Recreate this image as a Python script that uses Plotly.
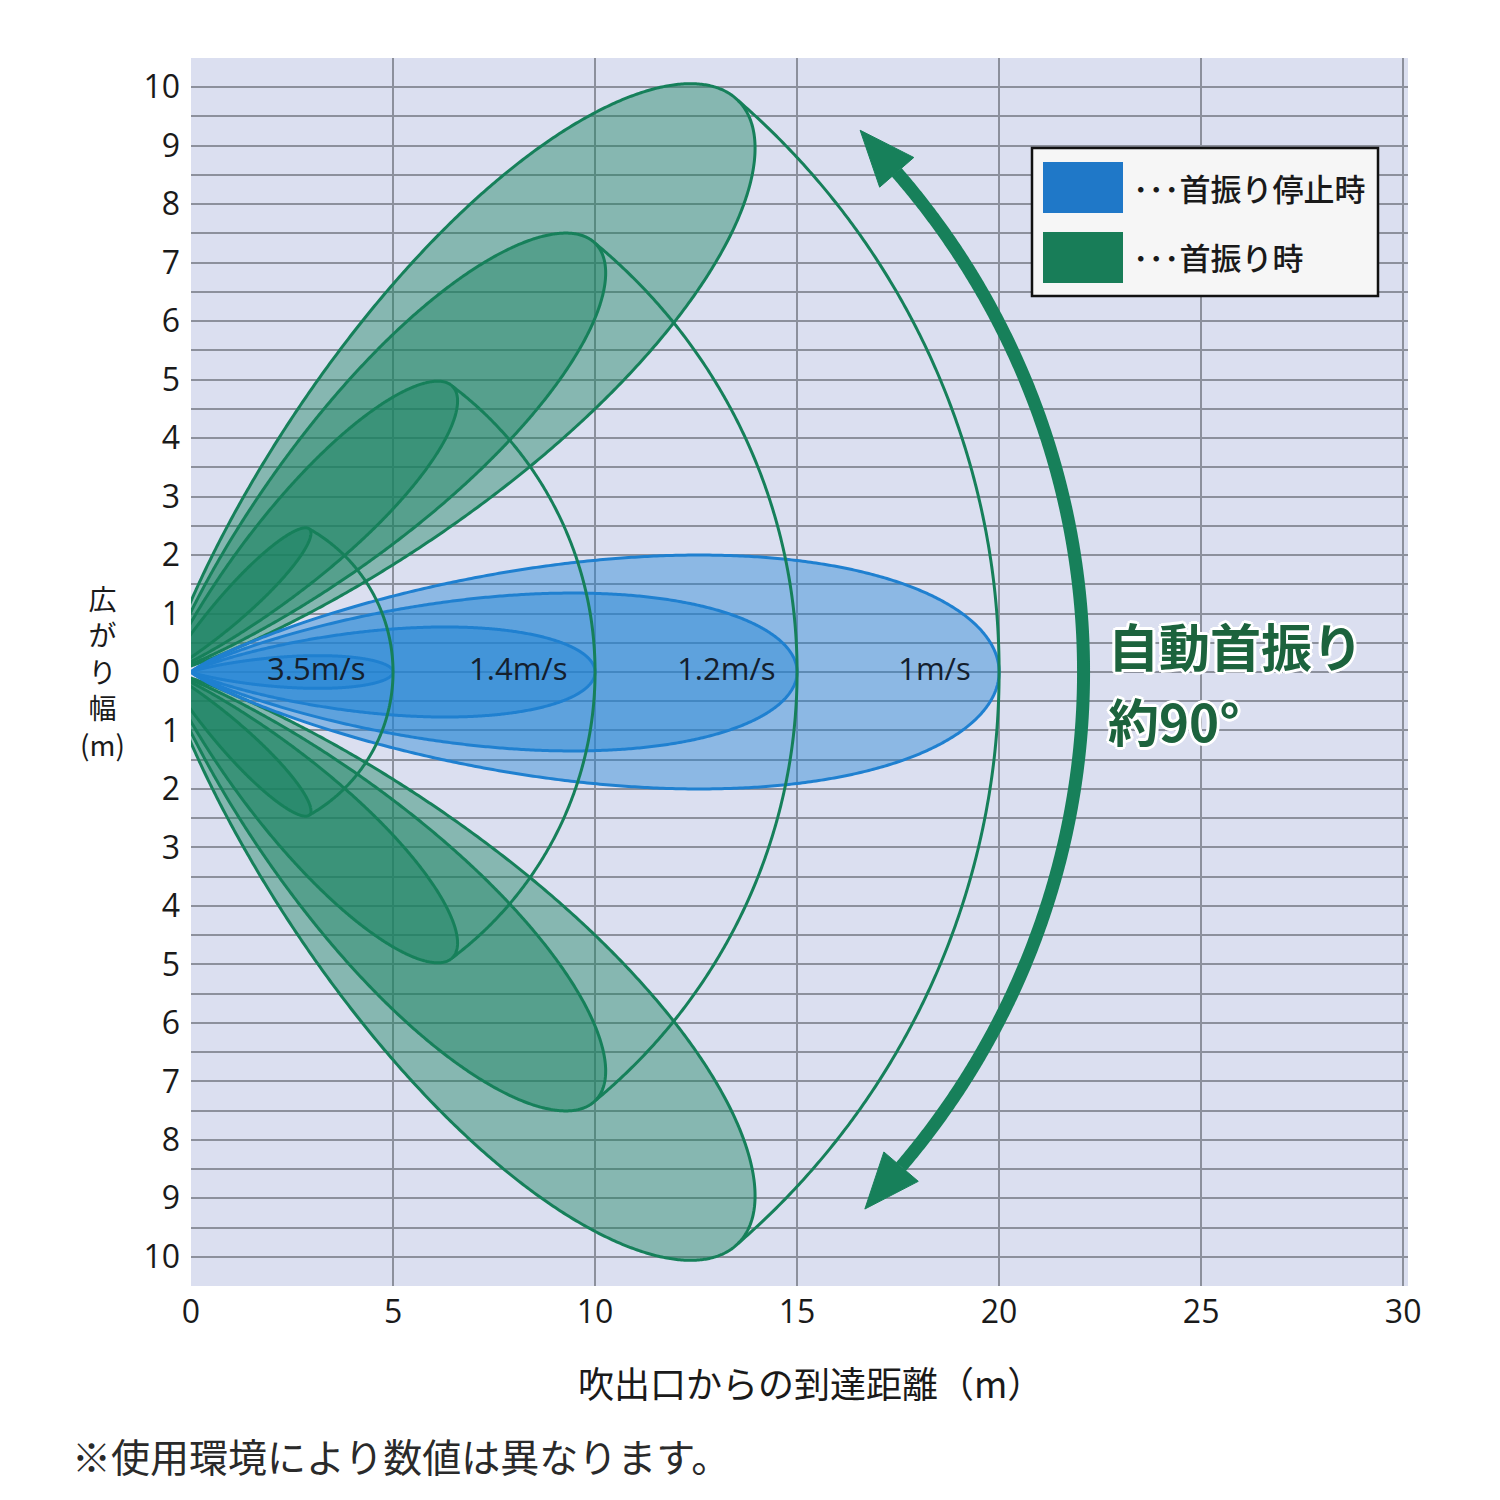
import numpy as np
import plotly.graph_objects as go

# ---------------- data ----------------
speed_labels = ["3.5m/s", "1.4m/s", "1.2m/s", "1m/s"]
reach_m = [5, 10, 15, 20]              # 到達距離 (m)
half_width_m = [0.28, 0.77, 1.35, 2.0]  # 広がり幅 (片側, m)
label_x_m = [3.1, 8.1, 13.25, 18.4]
swing_deg = [45, -45]                   # 首振り角度 (片側)
swing_pivot_x = -0.6
x_tick_vals = [0, 5, 10, 15, 20, 25, 30]
y_tick_vals = list(range(-10, 11))
y_tick_text = [str(abs(v)) for v in y_tick_vals]

legend_labels = ["･･･首振り停止時", "･･･首振り時"]
x_title = "吹出口からの到達距離（m）"
y_title = "広<br>が<br>り<br>幅<br>(m)"
note_text = "※使用環境により数値は異なります。"
swing_text = ["自動首振り", "約90°"]

# ---------------- layout geometry ----------------
W = H = 1500
ML, MR, MT, MB = 191, 92, 58, 214
XR = [0, 30.12]
YR = [-10.5, 10.5]
sx = (W - ML - MR) / (XR[1] - XR[0])
sy = (H - MT - MB) / (YR[1] - YR[0])
k = sy / sx  # aspect factor (y units -> x-unit pixel space)

BLUE_FILL = "rgba(30,132,212,0.42)"
BLUE_LINE = "#1f80d0"
GREEN_FILL = "rgba(24,130,96,0.43)"
GREEN_LINE = "#16805a"
ARROW = "#17805a"
JP = "Noto Sans CJK JP"
NUM = "Open Sans"


def px2paper(px, py):
    return (px - ML) / (W - ML - MR), (H - MB - py) / (H - MT - MB)


def teardrop(L, hw, p=0.85, n=400):
    t = np.linspace(0, np.pi, n)
    u = (1 - np.cos(t)) / 2
    us = p / (p + 0.5)
    c = hw / (us ** p * np.sqrt(1 - us))
    h = c * u ** p * np.sqrt(np.clip(1 - u, 0, None))
    x = np.concatenate([L * u, (L * u)[::-1]])
    y = np.concatenate([h, -h[::-1]])
    return x, y


def rotate(x, y, deg, px0):
    th = np.radians(deg)
    yk = y * k
    xr = x * np.cos(th) - yk * np.sin(th)
    yr = x * np.sin(th) + yk * np.cos(th)
    return xr + px0, yr / k


fig = go.Figure()

# green (swing) lobes
for ang in swing_deg:
    for L, hw in sorted(zip(reach_m, half_width_m), reverse=True):
        x, y = teardrop(L, hw)
        xr, yr = rotate(x, y, ang, swing_pivot_x)
        fig.add_trace(go.Scatter(x=xr, y=yr, mode="lines", fill="toself",
                                 fillcolor=GREEN_FILL,
                                 line=dict(color=GREEN_LINE, width=3, simplify=False),
                                 hoverinfo="skip", showlegend=False))

# blue (fixed) lobes
for L, hw in sorted(zip(reach_m, half_width_m), reverse=True):
    x, y = teardrop(L, hw)
    fig.add_trace(go.Scatter(x=x, y=y, mode="lines", fill="toself",
                             fillcolor=BLUE_FILL,
                             line=dict(color=BLUE_LINE, width=3, simplify=False),
                             hoverinfo="skip", showlegend=False))

# swing envelope arcs
for L in reach_m:
    th = np.radians(swing_deg[0])
    tx = swing_pivot_x + L * np.cos(th)
    ty = L * np.sin(th)
    c = (L ** 2 - tx ** 2 - ty ** 2) / (2 * (L - tx))
    R = L - c
    phi = np.arctan2(ty, tx - c)
    a = np.linspace(-phi, phi, 400)
    fig.add_trace(go.Scatter(x=c + R * np.cos(a), y=R * np.sin(a) / k,
                             mode="lines", line=dict(color=GREEN_LINE, width=3, simplify=False),
                             hoverinfo="skip", showlegend=False))

# speed labels
fig.add_trace(go.Scatter(x=label_x_m, y=[0] * len(label_x_m), mode="text",
                         text=speed_labels,
                         textfont=dict(family=NUM, size=31, color="#14202e"),
                         hoverinfo="skip", showlegend=False))

# double-headed swing arrow (x-unit pixel space)
acx, ar = 3.24, 18.85
a_top, a_bot = np.radians(41), np.radians(-40.5)
aa = np.linspace(a_bot, a_top, 500)
fig.add_trace(go.Scatter(x=acx + ar * np.cos(aa), y=ar * np.sin(aa) / k,
                         mode="lines", line=dict(color=ARROW, width=13, simplify=False),
                         hoverinfo="skip", showlegend=False))
head_len, head_w = 1.38, 1.12
for a, sgn in [(a_top, 1), (a_bot, -1)]:
    P = np.array([acx + ar * np.cos(a), ar * np.sin(a)])
    tang = sgn * np.array([-np.sin(a), np.cos(a)])
    nrm = np.array([np.cos(a), np.sin(a)])
    tip = P + head_len * tang
    b1 = P + head_w / 2 * nrm
    b2 = P - head_w / 2 * nrm
    pts = np.array([b1, tip, b2, b1])
    fig.add_trace(go.Scatter(x=pts[:, 0], y=pts[:, 1] / k, mode="lines",
                             fill="toself", fillcolor=ARROW,
                             line=dict(color=ARROW, width=1),
                             hoverinfo="skip", showlegend=False))

# ---------------- legend box ----------------
shapes = []
bx0, by0 = px2paper(1032, 296)
bx1, by1 = px2paper(1378, 148)
shapes.append(dict(type="rect", xref="paper", yref="paper", x0=bx0, y0=by0, x1=bx1, y1=by1,
                   fillcolor="#f6f6f6", line=dict(color="#111", width=2.5), layer="above"))
for (py0, py1), col in [((162, 213), "#1f78c8"), ((232, 283), "#187d58")]:
    x0, y0 = px2paper(1043, py1)
    x1, y1 = px2paper(1123, py0)
    shapes.append(dict(type="rect", xref="paper", yref="paper", x0=x0, y0=y0, x1=x1, y1=y1,
                       fillcolor=col, line=dict(width=0), layer="above"))

annotations = []
for txt, pyc in zip(legend_labels, [187, 257]):
    x, y = px2paper(1131, pyc)
    annotations.append(dict(text=txt, x=x, y=y, xref="paper", yref="paper",
                            xanchor="left", yanchor="middle", showarrow=False,
                            font=dict(family=JP, size=31, color="#1a1a1a", weight=500)))

outline = ("2px 2px 0 #fff, -2px -2px 0 #fff, 2px -2px 0 #fff, -2px 2px 0 #fff, "
           "0 3px 0 #fff, 3px 0 0 #fff, 0 -3px 0 #fff, -3px 0 0 #fff")
for txt, pyc in zip(swing_text, [645, 720]):
    x, y = px2paper(1106, pyc)
    annotations.append(dict(text=txt, x=x, y=y, xref="paper", yref="paper",
                            xanchor="left", yanchor="middle", showarrow=False,
                            font=dict(family=JP, size=51, color="#1c633d",
                                      weight="bold", shadow=outline)))

x, y = px2paper(102, 671)
annotations.append(dict(text=y_title, x=x, y=y, xref="paper", yref="paper",
                        xanchor="center", yanchor="middle", showarrow=False,
                        font=dict(family=JP, size=28, color="#1a1a1a")))

x, y = px2paper(810, 1382)
annotations.append(dict(text=x_title, x=x, y=y, xref="paper", yref="paper",
                        xanchor="center", yanchor="middle", showarrow=False,
                        font=dict(family=JP, size=36, color="#1a1a1a")))
x, y = px2paper(70, 1455)
annotations.append(dict(text=note_text, x=x, y=y, xref="paper", yref="paper",
                        xanchor="left", yanchor="middle", showarrow=False,
                        font=dict(family=JP, size=39, color="#2a2a2a")))

GRID = "#8c909c"
fig.update_layout(
    width=W, height=H,
    margin=dict(l=ML, r=MR, t=MT, b=MB),
    paper_bgcolor="#ffffff",
    plot_bgcolor="#dbdff0",
    shapes=shapes,
    annotations=annotations,
    showlegend=False,
    xaxis=dict(range=XR, tickvals=x_tick_vals, showgrid=True, gridcolor=GRID, gridwidth=2,
               zeroline=False, showline=False, ticks="",
               tickfont=dict(family=NUM, size=32, color="#1a1a1a"),
               ticklabelstandoff=4, fixedrange=True),
    yaxis=dict(range=YR, tickvals=y_tick_vals, ticktext=y_tick_text,
               showgrid=True, gridcolor=GRID, gridwidth=2,
               minor=dict(dtick=0.5, tick0=0, showgrid=True, gridcolor=GRID, gridwidth=2),
               zeroline=False, showline=False, ticks="",
               tickfont=dict(family=NUM, size=32, color="#1a1a1a"),
               ticklabelstandoff=10, fixedrange=True),
)

fig.write_html("out.html")
